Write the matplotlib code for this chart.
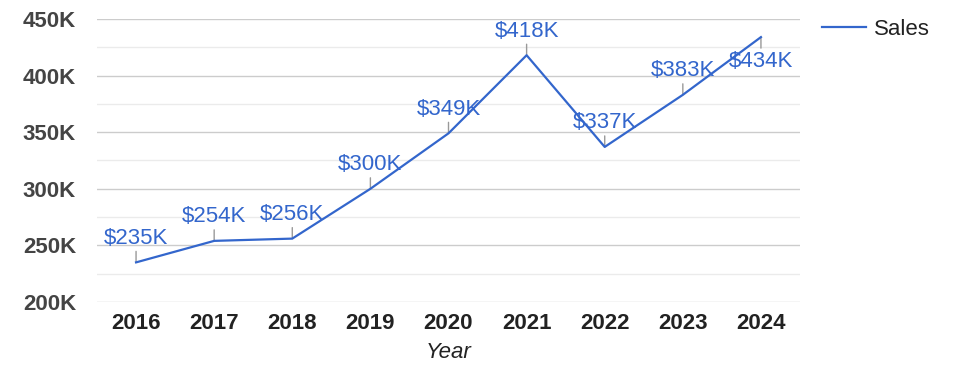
import matplotlib
matplotlib.use("Agg")
import matplotlib.pyplot as plt
from matplotlib.ticker import MultipleLocator, FuncFormatter

years = ["2016", "2017", "2018", "2019", "2020", "2021", "2022", "2023", "2024"]
sales = [235, 254, 256, 300, 349, 418, 337, 383, 434]  # thousands
# labels that sit below the point instead of above
below = ["2024"]

plt.rcParams['font.family'] = ['Liberation Sans', 'DejaVu Sans']

fig = plt.figure(figsize=(9.75, 3.78), dpi=100)
ax = fig.add_axes([97/975, 1-302/378, 703/975, 283/378])

x = list(range(len(years)))
line, = ax.plot(x, sales, color='#3366cc', lw=1.6, label='Sales', zorder=3)

for xi, yr, v in zip(x, years, sales):
    sign = -1 if yr in below else 1
    ax.annotate('', xy=(xi, v), xytext=(0, sign*11), textcoords='offset pixels',
                arrowprops=dict(arrowstyle='-', color='#999999', lw=1, shrinkA=0, shrinkB=0),
                zorder=2)
    ax.annotate('$%dK' % v, xy=(xi, v), xytext=(0, sign*24), textcoords='offset pixels',
                ha='center', va='center', fontsize=16, color='#3366cc', zorder=4)

ax.set_xlim(-0.5, len(years) - 0.5)
ax.set_ylim(200, 450)
ax.set_xticks(x)
ax.set_xticklabels(years)
ax.yaxis.set_major_locator(MultipleLocator(50))
ax.yaxis.set_minor_locator(MultipleLocator(25))
ax.yaxis.set_major_formatter(FuncFormatter(lambda v, p: '%dK' % v))
ax.grid(axis='y', which='major', color='#cccccc', lw=1)
ax.grid(axis='y', which='minor', color='#ebebeb', lw=1)
ax.set_axisbelow(True)
for s in ax.spines.values():
    s.set_visible(False)
ax.tick_params(axis='both', which='both', length=0)
ax.tick_params(axis='y', pad=15, labelsize=16, labelcolor='#444444')
ax.tick_params(axis='x', pad=8, labelsize=16, labelcolor='#222222')
for t in ax.get_yticklabels() + ax.get_xticklabels():
    t.set_fontweight('bold')

ax.set_xlabel('Year', fontsize=16, style='italic', color='#222222', labelpad=6)

fig.legend(handles=[line], loc='upper left', bbox_to_anchor=(822/975, 1-19/378),
           frameon=False, fontsize=16, handlelength=2.0, handletextpad=0.36,
           borderpad=0, borderaxespad=0, labelcolor='#222222')

fig.savefig('out.png', dpi=100)
